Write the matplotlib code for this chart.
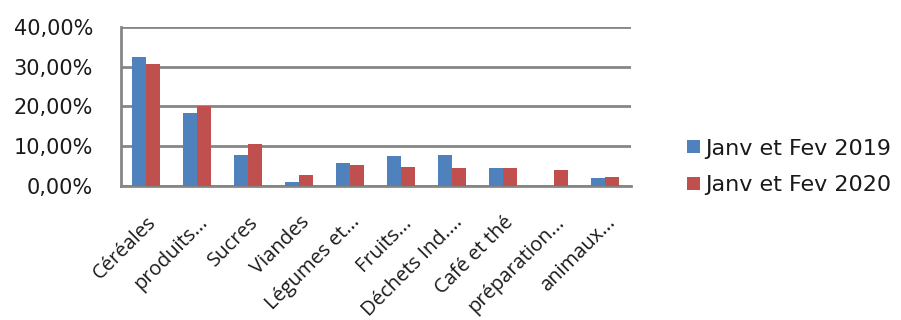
import numpy as np
import matplotlib
matplotlib.use("Agg")
import matplotlib.pyplot as plt
from matplotlib.ticker import FuncFormatter

categories = ["Céréales", "produits...", "Sucres", "Viandes", "Légumes et...",
              "Fruits...", "Déchets Ind....", "Café et thé", "préparation...", "animaux..."]
vals_2019 = [32.3, 18.4, 7.9, 1.1, 5.7, 7.5, 7.9, 4.6, 0.1, 1.9]
vals_2020 = [30.7, 20.0, 10.5, 2.7, 5.2, 4.8, 4.6, 4.6, 4.0, 2.3]
series_names = ["Janv et Fev 2019", "Janv et Fev 2020"]

plt.rcParams['font.family'] = ['DejaVu Sans']

fig = plt.figure(figsize=(9.01, 3.2), dpi=100, facecolor='white')
ax = fig.add_axes([0.134, 0.419, 0.566, 0.497])

x = np.arange(len(categories))
w = 0.275
ax.bar(x - w / 2, vals_2019, w, color='#4F81BD', label=series_names[0], zorder=3)
ax.bar(x + w / 2, vals_2020, w, color='#C0504D', label=series_names[1], zorder=3)

ax.set_xlim(-0.5, len(categories) - 0.5)
ax.set_ylim(0, 40)
ax.set_yticks([0, 10, 20, 30, 40])
ax.yaxis.set_major_formatter(FuncFormatter(lambda v, p: f"{v:.2f}%".replace('.', ',')))
ax.grid(axis='y', color='#868686', linewidth=2, zorder=0)

for s in ['top', 'right']:
    ax.spines[s].set_visible(False)
for s in ['left', 'bottom']:
    ax.spines[s].set_color('#868686')
    ax.spines[s].set_linewidth(2)

ax.tick_params(axis='y', length=0, pad=20, labelsize=15, labelcolor='#1a1a1a')
ax.tick_params(axis='x', length=0, pad=19, labelcolor='#1a1a1a')
ax.set_xticks(x)
ax.set_xticklabels(categories, rotation=45, ha='right', rotation_mode='anchor',
                   family=['Open Sans', 'DejaVu Sans'], fontsize=14.5)

ax.legend(loc='center left', bbox_to_anchor=(1.072, 0.12), frameon=False,
          fontsize=16, handlelength=0.55, handleheight=0.55, handletextpad=0.25,
          labelspacing=0.75, labelcolor='#1a1a1a')

fig.savefig("out.png", dpi=100, facecolor='white')
